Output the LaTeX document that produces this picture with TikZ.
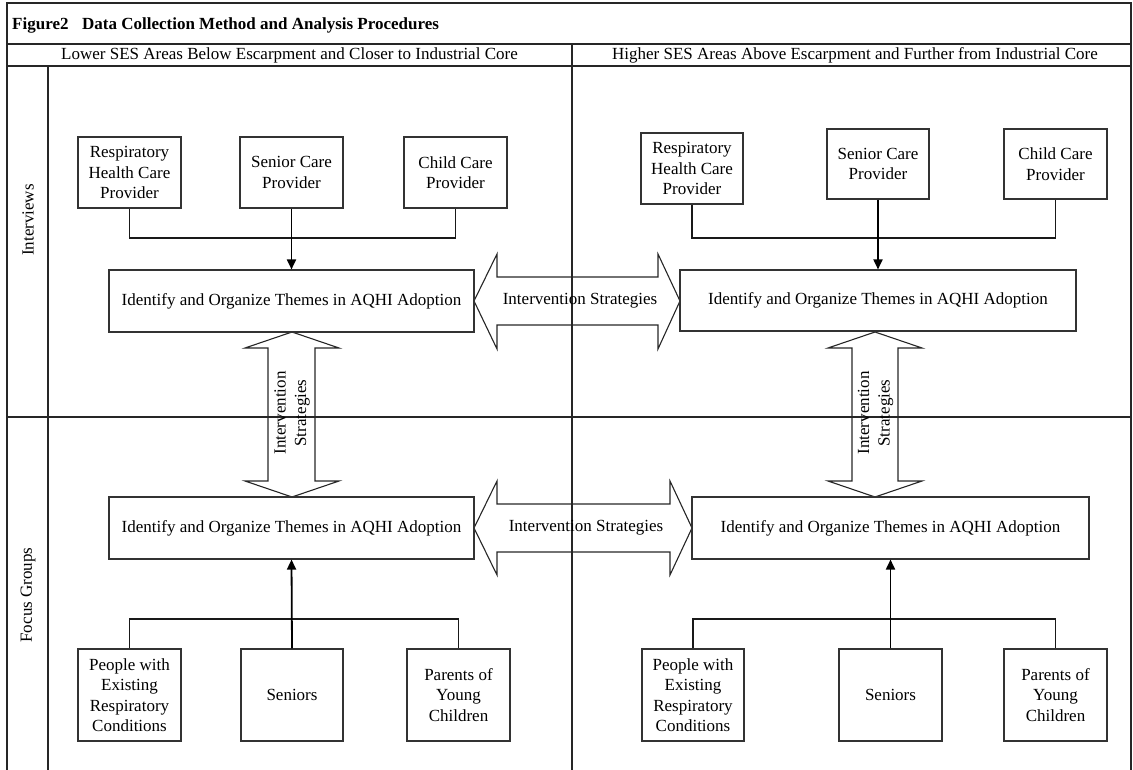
\documentclass[tikz,border=0pt]{standalone}
\usepackage{fontspec}
\setmainfont{Liberation Serif}
\usetikzlibrary{arrows.meta}
\newcommand\myfs{\fontsize{17}{20.5}\selectfont}
\tikzset{
  frameline/.style={line width=1.1pt, black!85},
  box/.style={draw=black!80, line width=1.1pt, align=center, inner sep=0pt, font=\myfs, fill=white},
  conn/.style={line width=1.1pt, black!90},
  arr/.style={line width=1.8pt, black, -{Triangle[width=9pt,length=10pt]}},
  fatarrow/.style={draw=black!85, line width=1.1pt},
  lbl/.style={font=\myfs, inner sep=0pt},
}
\begin{document}
\begin{tikzpicture}[x=1pt,y=-1pt]
\useasboundingbox (0,0) rectangle (1133,770);
% frame
\draw[frameline] (7,775) -- (7,3) -- (1131,3) -- (1131,775);
\draw[frameline] (7,44) -- (1131,44);
\draw[frameline] (7,66) -- (1131,66);
\draw[frameline] (572,44) -- (572,775);
\draw[frameline] (48,66) -- (48,775);
\draw[frameline] (7,417) -- (1131,417);
% titles
\node[lbl, anchor=west, font=\myfs\bfseries] (title) at (12,25) {Figure2\hspace{0.8em}Data Collection Method and Analysis Procedures};
\node[lbl] (hl) at (289.5,55.5) {Lower SES Areas Below Escarpment and Closer to Industrial Core};
\node[lbl] (hr) at (855,55.5) {Higher SES Areas Above Escarpment and Further from Industrial Core};
\node[lbl, rotate=90] (lint) at (28,220) {Interviews};
\node[lbl, rotate=90] (lfoc) at (28,595) {Focus Groups};
% fat arrows
\draw[fatarrow] (474,301) -- (497,254) -- (497,277) -- (658,277) -- (658,254) -- (680,301)
  -- (658,349) -- (658,325) -- (497,325) -- (497,349) -- cycle;
\draw[fatarrow] (474,528) -- (497,481) -- (497,504) -- (670,504) -- (670,481) -- (692,528)
  -- (670,575) -- (670,552) -- (497,552) -- (497,575) -- cycle;
\draw[fatarrow] (292,332) -- (339,348) -- (315,348) -- (315,481) -- (339,481) -- (292,497)
  -- (245,481) -- (268,481) -- (268,348) -- (245,348) -- cycle;
\draw[fatarrow] (875,332) -- (922,348) -- (898,348) -- (898,481) -- (922,481) -- (875,497)
  -- (828,481) -- (852,481) -- (852,348) -- (828,348) -- cycle;
\node[lbl] (ist) at (580,301) {Intervention Strategies};
\node[lbl] (isb) at (586,528) {Intervention Strategies};
\node[lbl, rotate=90, align=center] (isl) at (292,413) {Intervention\\Strategies};
\node[lbl, rotate=90, align=center] (isr) at (875.5,413) {Intervention\\Strategies};
% top-left boxes
\node[box, minimum width=103, minimum height=71] (rl) at (129.5,172.5) {Respiratory\\Health Care\\Provider};
\node[box, minimum width=103, minimum height=71] (sl) at (291.5,172.5) {Senior Care\\Provider};
\node[box, minimum width=103, minimum height=71] (cl) at (455.5,172.5) {Child Care\\Provider};
\node[box, minimum width=365, minimum height=62] (ml) at (291.5,301) {Identify and Organize Themes in AQHI Adoption};
% top-right boxes
\node[box, minimum width=102, minimum height=71] (rr) at (692,168.5) {Respiratory\\Health Care\\Provider};
\node[box, minimum width=102, minimum height=70] (sr) at (878,164) {Senior Care\\Provider};
\node[box, minimum width=103, minimum height=70] (cr) at (1055.5,164) {Child Care\\Provider};
\node[box, minimum width=396, minimum height=61] (mr) at (878,300.5) {Identify and Organize Themes in AQHI Adoption};
% bottom-left boxes
\node[box, minimum width=365, minimum height=62] (mbl) at (291.5,528) {Identify and Organize Themes in AQHI Adoption};
\node[box, minimum width=103, minimum height=92] (pl) at (129.5,695) {People with\\Existing\\Respiratory\\Conditions};
\node[box, minimum width=102, minimum height=92] (snl) at (292,695) {Seniors};
\node[box, minimum width=103, minimum height=92] (yl) at (458.5,695) {Parents of\\Young\\Children};
% bottom-right boxes
\node[box, minimum width=397, minimum height=62] (mbr) at (890.5,528) {Identify and Organize Themes in AQHI Adoption};
\node[box, minimum width=102, minimum height=92] (pr) at (693,695) {People with\\Existing\\Respiratory\\Conditions};
\node[box, minimum width=103, minimum height=92] (snr) at (890.5,695) {Seniors};
\node[box, minimum width=103, minimum height=92] (yr) at (1055.5,695) {Parents of\\Young\\Children};
% junction levels
\coordinate (jt) at (0,238);
\coordinate (jb) at (0,619);
% connectors
\draw[conn] (rl.south) -- (rl.south |- jt) -| (cl.south);
\draw[arr] (sl.south) -- (ml.north);
\draw[conn] (rr.south) -- (rr.south |- jt) -| (cr.south);
\draw[arr] (sr.south) -- (mr.north);
\draw[conn] (pl.north) -- (pl.north |- jb) -| (yl.north);
\draw[arr] (snl.north) -- (mbl.south);
\draw[conn] (pr.north) -- (pr.north |- jb) -| (yr.north);
\draw[arr] (snr.north) -- (mbr.south);
\end{tikzpicture}
\end{document}
